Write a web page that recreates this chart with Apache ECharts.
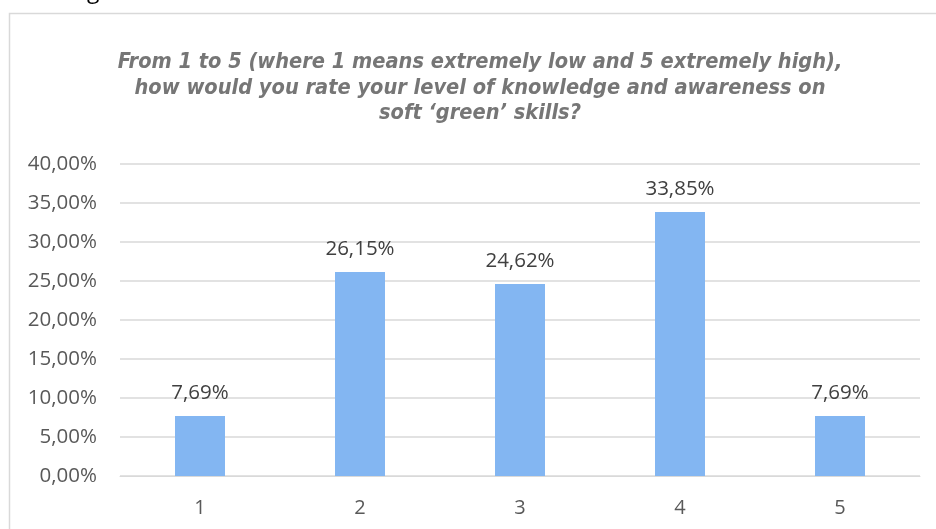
<!DOCTYPE html>
<html>
<head>
<meta charset="utf-8">
<script src="https://cdn.jsdelivr.net/npm/echarts@6/dist/echarts.min.js"></script>
<style>
  html, body { margin: 0; padding: 0; background: #ffffff; }
  #chart { width: 936px; height: 529px; }
</style>
</head>
<body>
<div id="chart"></div>
<script>
// Rating categories (1 = extremely low, 5 = extremely high)
const categories = ['1', '2', '3', '4', '5'];
// Share of respondents per rating, in percent
const shares = [7.69, 26.15, 24.62, 33.85, 7.69];
// Value-axis ticks, in percent
const yTicks = [0, 5, 10, 15, 20, 25, 30, 35, 40];

const titleLines = [
  'From 1 to 5 (where 1 means extremely low and 5 extremely high),',
  'how would you rate your level of knowledge and awareness on',
  'soft \u2018green\u2019 skills?'
];

const fmtPct = v => v.toFixed(2).replace('.', ',') + '%';
const titleFont = '"DejaVu Sans Condensed", "Open Sans", sans-serif';
const labelFont = '"Open Sans", "Noto Sans", sans-serif';

const chart = echarts.init(document.getElementById('chart'), null, { renderer: 'canvas' });

chart.setOption({
  animation: false,
  backgroundColor: '#ffffff',
  title: {
    text: titleLines.join('\n'),
    left: 475,
    top: 45,
    textAlign: 'center',
    textStyle: {
      fontFamily: titleFont,
      fontSize: 21.6,
      fontWeight: 'bold',
      fontStyle: 'italic',
      color: '#767676',
      lineHeight: 25.5
    }
  },
  graphic: [
    {
      type: 'rect',
      silent: true,
      shape: { x: 9.5, y: 13.5, width: 960, height: 560 },
      style: { fill: 'none', stroke: '#d9d9d9', lineWidth: 1.5 }
    },
    {
      type: 'text',
      silent: true,
      left: 87,
      top: -20,
      style: { text: 'g', fontFamily: labelFont, fontSize: 23, fill: '#000000' }
    }
  ],
  grid: { left: 120, right: 16, top: 164, bottom: 53 },
  xAxis: {
    type: 'category',
    data: categories,
    axisLine: { show: true, lineStyle: { color: '#d9d9d9', width: 1 } },
    axisTick: { show: false },
    axisLabel: { color: '#595959', fontFamily: labelFont, fontSize: 20, margin: 22 }
  },
  yAxis: {
    type: 'value',
    min: yTicks[0],
    max: yTicks[yTicks.length - 1],
    interval: yTicks[1] - yTicks[0],
    axisLine: { show: false },
    axisTick: { show: false },
    splitLine: { lineStyle: { color: '#d9d9d9', width: 1.5 } },
    axisLabel: {
      color: '#595959',
      fontFamily: labelFont,
      fontSize: 20.5,
      margin: 23,
      formatter: v => fmtPct(v)
    }
  },
  series: [{
    type: 'bar',
    data: shares,
    barWidth: 50,
    itemStyle: { color: '#83b6f2' },
    label: {
      show: true,
      position: 'top',
      distance: 12,
      color: '#404040',
      fontFamily: labelFont,
      fontSize: 20.5,
      formatter: p => fmtPct(p.value)
    }
  }]
});
</script>
</body>
</html>
